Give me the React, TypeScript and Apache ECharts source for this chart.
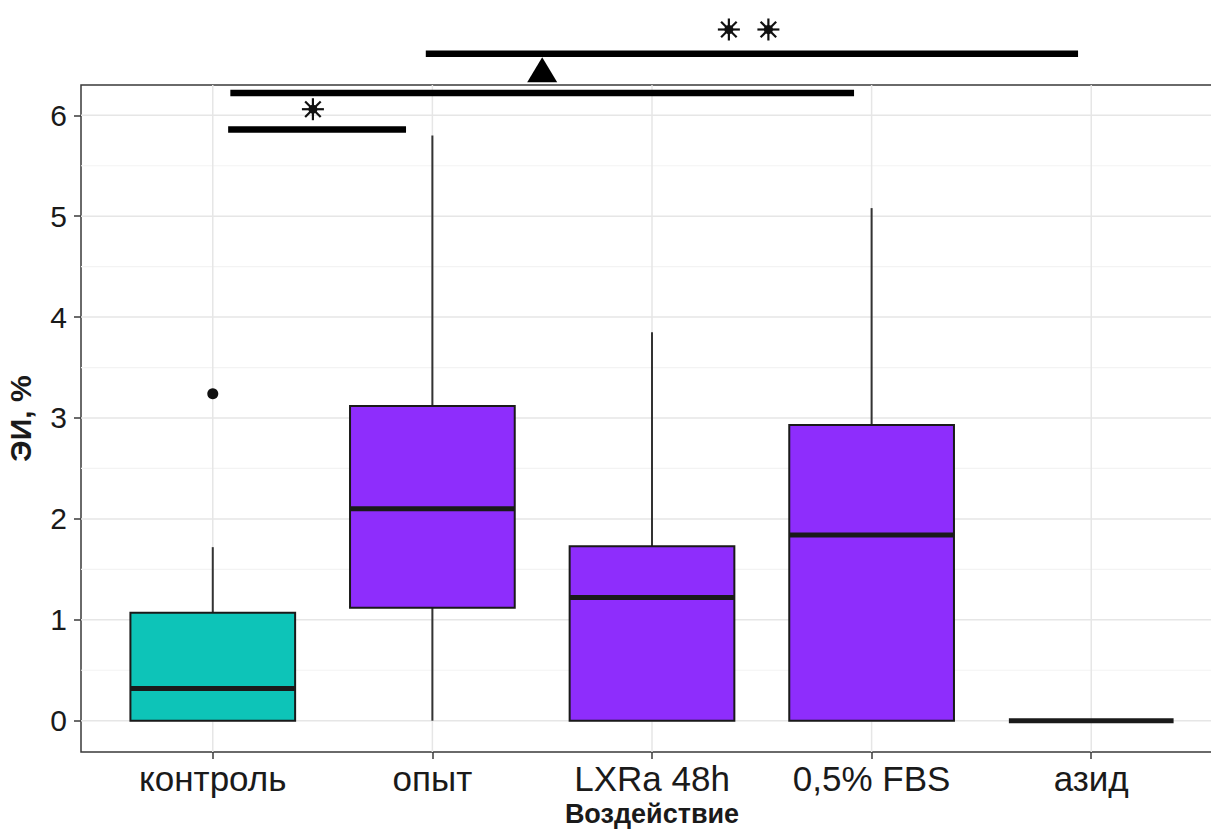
import React, { useEffect, useRef } from "react";
import * as echarts from "echarts";

const categories = ["контроль", "опыт", "LXRa 48h", "0,5% FBS", "азид"];
// [min, q1, median, q3, max]
const boxStats = [
  [0, 0, 0.32, 1.07, 1.72],
  [0, 1.12, 2.1, 3.12, 5.8],
  [0, 0, 1.22, 1.73, 3.85],
  [0, 0, 1.84, 2.93, 5.08],
  [0, 0, 0, 0, 0],
];
const boxColors = ["#0DC4B8", "#8E2DFC", "#8E2DFC", "#8E2DFC", "#8E2DFC"];
const outliers = [[0, 3.24]];
const yTicks = [0, 1, 2, 3, 4, 5, 6];
const yMinor = [0.5, 1.5, 2.5, 3.5, 4.5, 5.5];
const xTicks = [0, 1, 2, 3, 4];
// significance bars: [x1, x2, y]
const sigBars = [
  [0.07, 0.88, 5.86],
  [0.08, 2.92, 6.22],
  [0.97, 3.94, 6.61],
];
// star marks: [x, y]
const sigStars = [
  [0.456, 6.06],
  [2.35, 6.85],
  [2.53, 6.85],
];
const sigTriangles = [[1.5, 6.45]];

const FONT = "'Liberation Sans', Arial, sans-serif";

export default function App() {
  const ref = useRef<HTMLDivElement>(null);
  useEffect(() => {
    if (!ref.current) return;
    const chart = echarts.init(ref.current, null, { renderer: "svg" });
    const option: any = {
      animation: false,
      backgroundColor: "#ffffff",
      grid: {
        left: 81,
        top: 85,
        width: 1142,
        height: 667,
        show: true,
        borderColor: "#3a3a3a",
        borderWidth: 1.5,
        backgroundColor: "transparent",
        containLabel: false,
        outerBoundsMode: "none",
      },
      xAxis: {
        type: "value",
        min: -0.6,
        max: 4.6,
        name: "Воздействие",
        nameLocation: "middle",
        nameGap: 47,
        nameTextStyle: { fontFamily: FONT, fontWeight: "bold", fontSize: 27, color: "#1a1a1a" },
        axisLine: { show: false, onZero: false },
        splitLine: { show: false },
        axisTick: { show: true, length: 7, customValues: xTicks, lineStyle: { color: "#3a3a3a", width: 1.5 } },
        axisLabel: {
          customValues: xTicks,
          margin: 9,
          fontFamily: FONT,
          fontSize: 35,
          color: "#1a1a1a",
          formatter: (v: number) => categories[Math.round(v)] ?? "",
        },
      },
      yAxis: {
        type: "value",
        min: -0.31,
        max: 6.3,
        name: "ЭИ, %",
        nameLocation: "middle",
        nameRotate: 90,
        nameGap: 46,
        nameTextStyle: { fontFamily: FONT, fontWeight: "bold", fontSize: 30, color: "#1a1a1a" },
        axisLine: { show: false, onZero: false },
        splitLine: { show: false },
        axisTick: { show: true, length: 7, customValues: yTicks, lineStyle: { color: "#3a3a3a", width: 1.5 } },
        axisLabel: {
          customValues: yTicks,
          margin: 14,
          fontFamily: FONT,
          fontSize: 30,
          color: "#1a1a1a",
          formatter: (v: number) => String(Math.round(v)),
        },
      },
      series: [
        {
          type: "custom",
          name: "grid",
          silent: true,
          clip: true,
          z: 0,
          data: [[0, 0]],
          renderItem: (params: any, api: any) => {
            const children: any[] = [];
            const x0 = api.coord([-0.6, 0])[0];
            const x1 = api.coord([4.6, 0])[0];
            const yTop = api.coord([0, 6.3])[1];
            const yBot = api.coord([0, -0.31])[1];
            yMinor.forEach((v) => {
              const y = api.coord([0, v])[1];
              children.push({ type: "line", shape: { x1: x0, y1: y, x2: x1, y2: y }, style: { stroke: "#f3f3f3", lineWidth: 1.2 } });
            });
            yTicks.forEach((v) => {
              const y = api.coord([0, v])[1];
              children.push({ type: "line", shape: { x1: x0, y1: y, x2: x1, y2: y }, style: { stroke: "#e6e6e6", lineWidth: 1.5 } });
            });
            xTicks.forEach((v) => {
              const x = api.coord([v, 0])[0];
              children.push({ type: "line", shape: { x1: x, y1: yTop, x2: x, y2: yBot }, style: { stroke: "#e6e6e6", lineWidth: 1.5 } });
            });
            return { type: "group", children };
          },
        },
        {
          type: "custom",
          name: "boxes",
          clip: false,
          z: 2,
          data: boxStats.map((s, i) => [i, ...s]),
          renderItem: (params: any, api: any) => {
            const i = api.value(0);
            const mn = api.value(1), q1 = api.value(2), md = api.value(3), q3 = api.value(4), mx = api.value(5);
            const half = 0.375;
            const [xl, yq3] = api.coord([i - half, q3]);
            const [xr, yq1] = api.coord([i + half, q1]);
            const [xc, ymx] = api.coord([i, mx]);
            const ymn = api.coord([i, mn])[1];
            const ymd = api.coord([i, md])[1];
            const dark = "#1a1a1a";
            const children: any[] = [];
            if (ymx < yq3 - 0.5)
              children.push({ type: "line", shape: { x1: xc, y1: ymx, x2: xc, y2: yq3 }, style: { stroke: "#333", lineWidth: 2 } });
            if (ymn > yq1 + 0.5)
              children.push({ type: "line", shape: { x1: xc, y1: yq1, x2: xc, y2: ymn }, style: { stroke: "#333", lineWidth: 2 } });
            if (yq1 - yq3 > 0.5)
              children.push({
                type: "rect",
                shape: { x: xl, y: yq3, width: xr - xl, height: yq1 - yq3 },
                style: { fill: boxColors[i], stroke: dark, lineWidth: 2 },
              });
            children.push({
              type: "line",
              shape: { x1: xl, y1: ymd, x2: xr, y2: ymd },
              style: { stroke: dark, lineWidth: 5, lineCap: "butt" },
            });
            return { type: "group", children };
          },
        },
        {
          type: "scatter",
          name: "outliers",
          z: 3,
          clip: false,
          symbol: "circle",
          symbolSize: 11,
          itemStyle: { color: "#111", opacity: 1 },
          data: outliers,
        },
        {
          type: "custom",
          name: "sigBars",
          clip: false,
          z: 4,
          data: sigBars,
          renderItem: (params: any, api: any) => {
            const p1 = api.coord([api.value(0), api.value(2)]);
            const p2 = api.coord([api.value(1), api.value(2)]);
            return {
              type: "line",
              shape: { x1: p1[0], y1: p1[1], x2: p2[0], y2: p2[1] },
              style: { stroke: "#000", lineWidth: 6.5, lineCap: "butt" },
            };
          },
        },
        {
          type: "custom",
          name: "sigStars",
          clip: false,
          z: 4,
          data: sigStars,
          renderItem: (params: any, api: any) => {
            const [cx, cy] = api.coord([api.value(0), api.value(1)]);
            const r = 11;
            const children: any[] = [];
            for (let k = 0; k < 4; k++) {
              const a = (k * Math.PI) / 4;
              children.push({
                type: "line",
                shape: { x1: cx - r * Math.cos(a), y1: cy - r * Math.sin(a), x2: cx + r * Math.cos(a), y2: cy + r * Math.sin(a) },
                style: { stroke: "#111", lineWidth: 2.2 },
              });
            }
            children.push({ type: "circle", shape: { cx, cy, r: 4.5 }, style: { fill: "#111" } });
            return { type: "group", children };
          },
        },
        {
          type: "scatter",
          name: "sigTriangles",
          clip: false,
          z: 4,
          symbol: "triangle",
          symbolSize: [30, 25],
          itemStyle: { color: "#000", opacity: 1 },
          data: sigTriangles,
        },
      ],
    };
    chart.setOption(option);
    return () => chart.dispose();
  }, []);
  return (
    <div style={{ position: "fixed", left: 0, top: 0, width: 1211, height: 830, overflow: "hidden", background: "#fff" }}>
      <div ref={ref} style={{ width: 1240, height: 830 }} />
    </div>
  );
}
